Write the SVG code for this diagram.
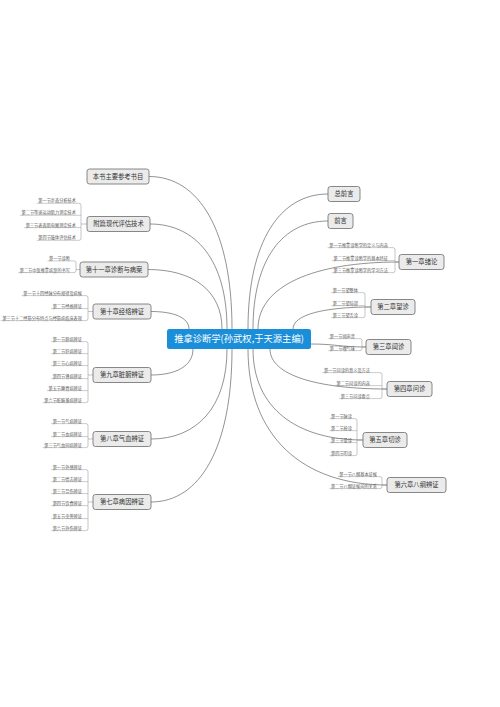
<svg xmlns="http://www.w3.org/2000/svg" width="500" height="707" viewBox="0 0 500 707">
<style>
.bg{fill:#ffffff}
.box{fill:#ebebeb;stroke:#6b6b6b;stroke-width:0.8}
.bt{font-family:"Noto Sans CJK SC","Noto Sans",sans-serif;font-size:6.3px;fill:#333333;text-anchor:middle}
.ct{font-family:"Noto Sans CJK SC","Noto Sans",sans-serif;font-size:4.2px;fill:#555555;text-anchor:end}
.ul{stroke:#9a9a9a;stroke-width:0.5;fill:none}
.main{stroke:#4a4a4a;stroke-width:0.6;fill:none}
.br{stroke:#8a8a8a;stroke-width:0.5;fill:none}
.root{fill:#1a8ed8}
.rt{font-family:"Noto Sans CJK SC","Noto Sans",sans-serif;font-size:9.3px;fill:#ffffff;text-anchor:middle}
</style>
<rect class="bg" x="0" y="0" width="500" height="707"/>

<g id="connectors">
  <path class="main" d="M232,329 C232,229.9 198.8,176.5 149,176.5"/>
  <path class="main" d="M227,329 C227,260.8 196.2,224 150,224"/>
  <path class="main" d="M222,329 C222,290.3 192.4,269.5 148,269.5"/>
  <path class="main" d="M189,329 C189,317.6 173.8,311.5 151,311.5"/>
  <path class="main" d="M193,349 C193,365.9 176.2,375 151,375"/>
  <path class="main" d="M227,349 C227,407.5 196.6,439 151,439"/>
  <path class="main" d="M232,349 C232,448.5 199.6,502 151,502"/>
  <path class="main" d="M248,329 C248,241.3 280,194 328,194"/>
  <path class="main" d="M253,329 C253,258.8 283,221 328,221"/>
  <path class="main" d="M258,329 C258,285.5 314.4,262 399,262"/>
  <path class="main" d="M293,329 C293,314.7 324.2,307 371,307"/>
  <path class="main" d="M311,344 C335,344 340,347 366,347"/>
  <path class="main" d="M270,349 C270,375 316.8,389 387,389"/>
  <path class="main" d="M253,349 C253,408.2 297,440 363,440"/>
  <path class="main" d="M248,349 C248,437.4 303.6,485 387,485"/>
  <path class="br" d="M79,203.3 Q81,203.3 81,205.3 V238.3 Q81,240.3 79,240.3 M81,224 H87"/>
  <path class="br" d="M74,260.9 Q76,260.9 76,262.9 V270.6 Q76,272.6 74,272.6 M76,269.5 H80"/>
  <path class="br" d="M86,295.6 Q88,295.6 88,297.6 V318.6 Q88,320.6 86,320.6 M88,311.5 H93"/>
  <path class="br" d="M86,341.6 Q88,341.6 88,343.6 V400.6 Q88,402.6 86,402.6 M88,375 H93"/>
  <path class="br" d="M86,423.6 Q88,423.6 88,425.6 V445.6 Q88,447.6 86,447.6 M88,439 H93"/>
  <path class="br" d="M86,469.6 Q88,469.6 88,471.6 V528.6 Q88,530.6 86,530.6 M88,502 H93"/>
  <path class="br" d="M393,247.6 Q395,247.6 395,249.6 V270.6 Q395,272.6 393,272.6 M395,262 H399"/>
  <path class="br" d="M363,292.6 Q365,292.6 365,294.6 V315.6 Q365,317.6 363,317.6 M365,307 H371"/>
  <path class="br" d="M360,338.6 Q362,338.6 362,340.6 V348.6 Q362,350.6 360,350.6 M362,347 H366"/>
  <path class="br" d="M380,372.6 Q382,372.6 382,374.6 V396.6 Q382,398.6 380,398.6 M382,389 H387"/>
  <path class="br" d="M355,418.6 Q357,418.6 357,420.6 V453.6 Q357,455.6 355,455.6 M357,440 H363"/>
  <path class="br" d="M380,476.6 Q382,476.6 382,478.6 V486.6 Q382,488.6 380,488.6 M382,485 H387"/>
</g>

<g id="root">
  <rect class="root" x="167" y="329" width="144" height="20" rx="2.5"/>
  <text class="rt" x="239" y="342.3">推拿诊断学(孙武权,于天源主编)</text>
</g>

<g id="n-cankao">
  <rect class="box" x="87" y="169" width="62" height="15" rx="2.5"/>
  <text class="bt" x="118" y="178.7">本书主要参考书目</text>
</g>

<g id="n-fupian">
  <rect class="box" x="87" y="216.5" width="63" height="15" rx="2.5"/>
  <text class="bt" x="118.5" y="226.2">附篇现代评估技术</text>
  <g id="n-fupian-1"><text class="ct" x="76" y="202.2">第一节步态分析技术</text><path class="ul" d="M36.7,203.3 H79"/></g>
  <g id="n-fupian-2"><text class="ct" x="76" y="214.2">第二节等速运动肌力测定技术</text><path class="ul" d="M19.9,215.3 H81"/></g>
  <g id="n-fupian-3"><text class="ct" x="76" y="226.5">第三节表面肌电图测定技术</text><path class="ul" d="M24.1,227.6 H81"/></g>
  <g id="n-fupian-4"><text class="ct" x="76" y="239.2">第四节肢体评估技术</text><path class="ul" d="M36.7,240.3 H79"/></g>
</g>

<g id="n-ch11">
  <rect class="box" x="80" y="262" width="68" height="15" rx="2.5"/>
  <text class="bt" x="114" y="271.7">第十一章诊断与病案</text>
  <g id="n-ch11-1"><text class="ct" x="70" y="259.8">第一节诊断</text><path class="ul" d="M47.5,260.9 H74"/></g>
  <g id="n-ch11-2"><text class="ct" x="70" y="271.5">第二节中医推拿病案的书写</text><path class="ul" d="M18.1,272.6 H74"/></g>
</g>

<g id="n-ch10">
  <rect class="box" x="93" y="304" width="58" height="15" rx="2.5"/>
  <text class="bt" x="122" y="313.7">第十章经络辨证</text>
  <g id="n-ch10-1"><text class="ct" x="82" y="294.5">第一节十四经脉分布规律及病候</text><path class="ul" d="M21.7,295.6 H86"/></g>
  <g id="n-ch10-2"><text class="ct" x="82" y="307.5">第二节经络辨证</text><path class="ul" d="M51.1,308.6 H88"/></g>
  <g id="n-ch10-3"><text class="ct" x="82" y="319.5">第三节十二经筋分布特点与经筋病临床表现</text><path class="ul" d="M0.7,320.6 H86"/></g>
</g>

<g id="n-ch9">
  <rect class="box" x="93" y="367.5" width="58" height="15" rx="2.5"/>
  <text class="bt" x="122" y="377.2">第九章脏腑辨证</text>
  <g id="n-ch9-1"><text class="ct" x="82" y="340.5">第一节肺病辨证</text><path class="ul" d="M51.1,341.6 H86"/></g>
  <g id="n-ch9-2"><text class="ct" x="82" y="352.5">第二节肝病辨证</text><path class="ul" d="M51.1,353.6 H88"/></g>
  <g id="n-ch9-3"><text class="ct" x="82" y="364.5">第三节心病辨证</text><path class="ul" d="M51.1,365.6 H88"/></g>
  <g id="n-ch9-4"><text class="ct" x="82" y="377.5">第四节肾病辨证</text><path class="ul" d="M51.1,378.6 H88"/></g>
  <g id="n-ch9-5"><text class="ct" x="82" y="389.5">第五节脾胃病辨证</text><path class="ul" d="M46.9,390.6 H88"/></g>
  <g id="n-ch9-6"><text class="ct" x="82" y="401.5">第六节脏腑兼病辨证</text><path class="ul" d="M42.7,402.6 H86"/></g>
</g>

<g id="n-ch8">
  <rect class="box" x="93" y="431.5" width="58" height="15" rx="2.5"/>
  <text class="bt" x="122" y="441.2">第八章气血辨证</text>
  <g id="n-ch8-1"><text class="ct" x="82" y="422.5">第一节气病辨证</text><path class="ul" d="M51.1,423.6 H86"/></g>
  <g id="n-ch8-2"><text class="ct" x="82" y="435.5">第二节血病辨证</text><path class="ul" d="M51.1,436.6 H88"/></g>
  <g id="n-ch8-3"><text class="ct" x="82" y="446.5">第三节气血同病辨证</text><path class="ul" d="M42.7,447.6 H86"/></g>
</g>

<g id="n-ch7">
  <rect class="box" x="93" y="494.5" width="58" height="15" rx="2.5"/>
  <text class="bt" x="122" y="504.2">第七章病因辨证</text>
  <g id="n-ch7-1"><text class="ct" x="82" y="468.5">第一节外感辨证</text><path class="ul" d="M51.1,469.6 H86"/></g>
  <g id="n-ch7-2"><text class="ct" x="82" y="480.5">第二节情志辨证</text><path class="ul" d="M51.1,481.6 H88"/></g>
  <g id="n-ch7-3"><text class="ct" x="82" y="492.5">第三节劳伤辨证</text><path class="ul" d="M51.1,493.6 H88"/></g>
  <g id="n-ch7-4"><text class="ct" x="82" y="504.5">第四节饮食辨证</text><path class="ul" d="M51.1,505.6 H88"/></g>
  <g id="n-ch7-5"><text class="ct" x="82" y="517.5">第五节虫兽辨证</text><path class="ul" d="M51.1,518.6 H88"/></g>
  <g id="n-ch7-6"><text class="ct" x="82" y="529.5">第六节外伤辨证</text><path class="ul" d="M51.1,530.6 H86"/></g>
</g>

<g id="n-zongqianyan">
  <rect class="box" x="328" y="186.5" width="32" height="15" rx="2.5"/>
  <text class="bt" x="344" y="196.2">总前言</text>
</g>

<g id="n-qianyan">
  <rect class="box" x="328" y="213.5" width="25" height="15" rx="2.5"/>
  <text class="bt" x="340.5" y="223.2">前言</text>
</g>

<g id="n-ch1">
  <rect class="box" x="399" y="254.5" width="45" height="15" rx="2.5"/>
  <text class="bt" x="421.5" y="264.2">第一章绪论</text>
  <g id="n-ch1-1"><text class="ct" x="388" y="246.5">第一节推拿诊断学的定义与内容</text><path class="ul" d="M327.7,247.6 H393"/></g>
  <g id="n-ch1-2"><text class="ct" x="388" y="259.5">第二节推拿诊断学的基本特征</text><path class="ul" d="M331.9,260.6 H395"/></g>
  <g id="n-ch1-3"><text class="ct" x="388" y="271.5">第三节推拿诊断学的学习方法</text><path class="ul" d="M331.9,272.6 H393"/></g>
</g>

<g id="n-ch2">
  <rect class="box" x="371" y="299.5" width="44" height="15" rx="2.5"/>
  <text class="bt" x="393" y="309.2">第二章望诊</text>
  <g id="n-ch2-1"><text class="ct" x="358" y="291.5">第一节望整体</text><path class="ul" d="M331.3,292.6 H363"/></g>
  <g id="n-ch2-2"><text class="ct" x="358" y="304.5">第二节望局部</text><path class="ul" d="M331.3,305.6 H365"/></g>
  <g id="n-ch2-3"><text class="ct" x="358" y="316.5">第三节望舌诊</text><path class="ul" d="M331.3,317.6 H363"/></g>
</g>

<g id="n-ch3">
  <rect class="box" x="366" y="339.5" width="45" height="15" rx="2.5"/>
  <text class="bt" x="388.5" y="349.2">第三章闻诊</text>
  <g id="n-ch3-1"><text class="ct" x="355" y="337.5">第一节闻声音</text><path class="ul" d="M328.3,338.6 H360"/></g>
  <g id="n-ch3-2"><text class="ct" x="355" y="349.5">第二节嗅气味</text><path class="ul" d="M328.3,350.6 H360"/></g>
</g>

<g id="n-ch4">
  <rect class="box" x="387" y="381.5" width="45" height="15" rx="2.5"/>
  <text class="bt" x="409.5" y="391.2">第四章问诊</text>
  <g id="n-ch4-1"><text class="ct" x="370" y="371.5">第一节问诊的意义及方法</text><path class="ul" d="M322.3,372.6 H380"/></g>
  <g id="n-ch4-2"><text class="ct" x="370" y="384.5">第二节问诊的内容</text><path class="ul" d="M334.9,385.6 H382"/></g>
  <g id="n-ch4-3"><text class="ct" x="370" y="397.5">第三节问诊要点</text><path class="ul" d="M339.1,398.6 H380"/></g>
</g>

<g id="n-ch5">
  <rect class="box" x="363" y="432.5" width="44" height="15" rx="2.5"/>
  <text class="bt" x="385" y="442.2">第五章切诊</text>
  <g id="n-ch5-1"><text class="ct" x="352" y="417.5">第一节脉诊</text><path class="ul" d="M329.5,418.6 H355"/></g>
  <g id="n-ch5-2"><text class="ct" x="352" y="429.5">第二节按诊</text><path class="ul" d="M329.5,430.6 H357"/></g>
  <g id="n-ch5-3"><text class="ct" x="352" y="441.5">第三节量诊</text><path class="ul" d="M329.5,442.6 H357"/></g>
  <g id="n-ch5-4"><text class="ct" x="352" y="454.5">第四节叩诊</text><path class="ul" d="M329.5,455.6 H355"/></g>
</g>

<g id="n-ch6">
  <rect class="box" x="387" y="477.5" width="59" height="15" rx="2.5"/>
  <text class="bt" x="416.5" y="487.2">第六章八纲辨证</text>
  <g id="n-ch6-1"><text class="ct" x="377" y="475.5">第一节八纲基本证候</text><path class="ul" d="M337.7,476.6 H380"/></g>
  <g id="n-ch6-2"><text class="ct" x="377" y="487.5">第二节八纲证候间的关系</text><path class="ul" d="M329.3,488.6 H380"/></g>
</g>
</svg>
